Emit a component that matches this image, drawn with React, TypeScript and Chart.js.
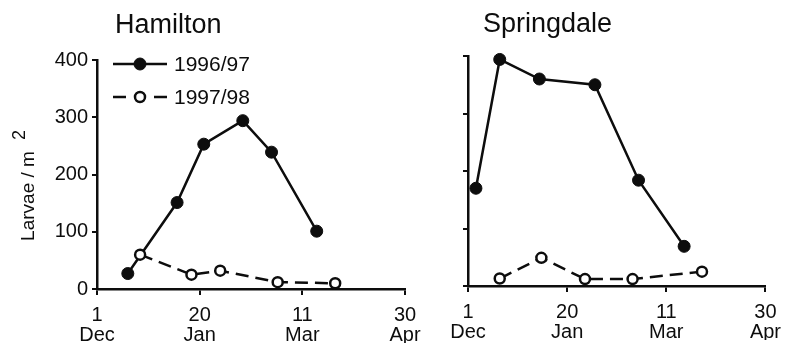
import { useEffect, useRef } from 'react';
import { Chart, registerables } from 'chart.js';

Chart.register(...registerables);

// ---- data (x = days after 1 December) ----
const tickValues = [0, 50, 100, 150];
const tickDayLabels = ['1', '20', '11', '30'];
const tickMonthLabels = ['Dec', 'Jan', 'Mar', 'Apr'];
const seriesNames = ['1996/97', '1997/98'];
const panelTitles = ['Hamilton', 'Springdale'];

const hamiltonDays9697 = [15, 39, 52, 71, 85, 107];
const hamiltonVals9697 = [27, 151, 253, 294, 239, 101];
const hamiltonDays9798 = [21, 46, 60, 88, 116];
const hamiltonVals9798 = [60, 25, 32, 12, 10];

const springDays9697 = [4, 16, 36, 64, 86, 109];
const springVals9697 = [170, 394, 360, 350, 184, 69];
const springDays9798 = [16, 37, 59, 83, 118];
const springVals9798 = [13, 49, 12, 12, 25];

const FONT = '"Liberation Sans", Arial, sans-serif';
const INK = '#0d0d0d';

const toPoints = (xs: number[], ys: number[]) => xs.map((x, i) => ({ x, y: ys[i] }));

function makeDatasets(d1: number[], v1: number[], d2: number[], v2: number[]) {
  return [
    {
      label: seriesNames[0],
      data: toPoints(d1, v1),
      borderColor: INK,
      backgroundColor: INK,
      borderWidth: 2.5,
      pointRadius: 6,
      pointBackgroundColor: INK,
      pointBorderColor: INK,
      pointBorderWidth: 1,
      order: 2,
      clip: false as any,
    },
    {
      label: seriesNames[1],
      data: toPoints(d2, v2),
      borderColor: INK,
      backgroundColor: '#fff',
      borderWidth: 2.5,
      borderDash: [13, 7],
      pointRadius: 5,
      pointBackgroundColor: '#fff',
      pointBorderColor: INK,
      pointBorderWidth: 2.5,
      order: 1,
      clip: false as any,
    },
  ];
}

function titlePlugin(text: string, dx: number, baseline: number) {
  return {
    id: 'panelTitle',
    afterDraw(chart: any) {
      const ctx = chart.ctx;
      ctx.save();
      ctx.fillStyle = INK;
      ctx.font = `27px ${FONT}`;
      ctx.textAlign = 'left';
      ctx.textBaseline = 'alphabetic';
      ctx.fillText(text, chart.chartArea.left + dx, baseline);
      ctx.restore();
    },
  };
}

const yLabelPlugin = {
  id: 'yLabel',
  afterDraw(chart: any) {
    const ctx = chart.ctx;
    ctx.save();
    ctx.fillStyle = INK;
    ctx.translate(29, 196);
    ctx.rotate(-Math.PI / 2);
    ctx.font = `19px ${FONT}`;
    ctx.textBaseline = 'middle';
    ctx.textAlign = 'center';
    const main = 'Larvae / m';
    const w = ctx.measureText(main).width;
    ctx.fillText(main, 0, 0);
    ctx.textAlign = 'left';
    ctx.font = `18px ${FONT}`;
    ctx.fillText('2', w / 2 + 11, -9);
    ctx.restore();
  },
};

const legendPlugin = {
  id: 'customLegend',
  afterDraw(chart: any) {
    const ctx = chart.ctx;
    chart.data.datasets.forEach((ds: any, i: number) => {
      const y = 64 + i * 33;
      const x0 = 113;
      const x1 = 167;
      const cx = 140;
      ctx.save();
      ctx.strokeStyle = ds.borderColor;
      ctx.lineWidth = ds.borderWidth;
      ctx.beginPath();
      if (ds.borderDash && ds.borderDash.length) {
        ctx.moveTo(x0, y);
        ctx.lineTo(x0 + 13, y);
        ctx.moveTo(x1 - 13, y);
        ctx.lineTo(x1, y);
      } else {
        ctx.moveTo(x0, y);
        ctx.lineTo(x1, y);
      }
      ctx.stroke();
      ctx.beginPath();
      ctx.arc(cx, y, ds.pointRadius, 0, Math.PI * 2);
      ctx.fillStyle = ds.pointBackgroundColor;
      ctx.fill();
      ctx.lineWidth = ds.pointBorderWidth;
      ctx.strokeStyle = ds.pointBorderColor;
      ctx.stroke();
      ctx.fillStyle = INK;
      ctx.font = `21px ${FONT}`;
      ctx.textAlign = 'left';
      ctx.textBaseline = 'middle';
      ctx.fillText(ds.label, 174, y + 1);
      ctx.restore();
    });
  },
};

function makeConfig(opts: {
  datasets: any[];
  padding: any;
  yWidth: number;
  showYLabels: boolean;
  plugins: any[];
}) {
  return {
    type: 'line' as const,
    data: { datasets: opts.datasets },
    options: {
      responsive: false,
      animation: false as const,
      devicePixelRatio: 1,
      layout: { padding: opts.padding },
      plugins: {
        legend: { display: false },
        title: { display: false },
        tooltip: { enabled: false },
      },
      scales: {
        x: {
          type: 'linear' as const,
          min: 0,
          max: 150,
          afterBuildTicks: (scale: any) => {
            scale.ticks = tickValues.map((v) => ({ value: v }));
          },
          afterFit: (scale: any) => {
            scale.height = 54;
          },
          ticks: {
            color: INK,
            padding: 10,
            maxRotation: 0,
            autoSkip: false,
            font: { family: FONT, size: 20, lineHeight: 1.0 },
            callback: (value: any) => {
              const i = tickValues.indexOf(Number(value));
              return i >= 0 ? [tickDayLabels[i], tickMonthLabels[i]] : '';
            },
          },
          grid: {
            drawOnChartArea: false,
            drawTicks: true,
            tickLength: 6,
            color: INK,
            lineWidth: 2,
          },
          border: { display: true, color: INK, width: 2.5 },
        },
        y: {
          type: 'linear' as const,
          min: 0,
          max: 400,
          afterFit: (scale: any) => {
            scale.width = opts.yWidth;
          },
          ticks: {
            display: opts.showYLabels,
            stepSize: 100,
            color: INK,
            padding: 4,
            font: { family: FONT, size: 20 },
          },
          grid: {
            drawOnChartArea: false,
            drawTicks: true,
            tickLength: 5,
            color: INK,
            lineWidth: 2,
          },
          border: { display: true, color: INK, width: 2.5 },
        },
      },
    },
    plugins: opts.plugins,
  };
}

export default function App() {
  const leftRef = useRef<HTMLCanvasElement | null>(null);
  const rightRef = useRef<HTMLCanvasElement | null>(null);

  useEffect(() => {
    const charts: Chart[] = [];
    if (leftRef.current) {
      charts.push(
        new Chart(
          leftRef.current,
          makeConfig({
            datasets: makeDatasets(hamiltonDays9697, hamiltonVals9697, hamiltonDays9798, hamiltonVals9798),
            padding: { left: 0, top: 60, right: 386, bottom: 0 },
            yWidth: 97,
            showYLabels: true,
            plugins: [titlePlugin(panelTitles[0], 18, 33), yLabelPlugin, legendPlugin],
          }) as any
        )
      );
    }
    if (rightRef.current) {
      charts.push(
        new Chart(
          rightRef.current,
          makeConfig({
            datasets: makeDatasets(springDays9697, springVals9697, springDays9798, springVals9798),
            padding: { left: 458, top: 56, right: 18, bottom: 3 },
            yWidth: 10,
            showYLabels: false,
            plugins: [titlePlugin(panelTitles[1], 15, 32)],
          }) as any
        )
      );
    }
    return () => charts.forEach((c) => c.destroy());
  }, []);

  const canvasStyle: any = { position: 'absolute', left: 0, top: 0, width: 791, height: 343 };
  return (
    <div style={{ position: 'fixed', left: 0, top: 0, width: 791, height: 343, background: '#fff' }}>
      <canvas ref={leftRef} width={791} height={343} style={canvasStyle} />
      <canvas ref={rightRef} width={791} height={343} style={canvasStyle} />
    </div>
  );
}
